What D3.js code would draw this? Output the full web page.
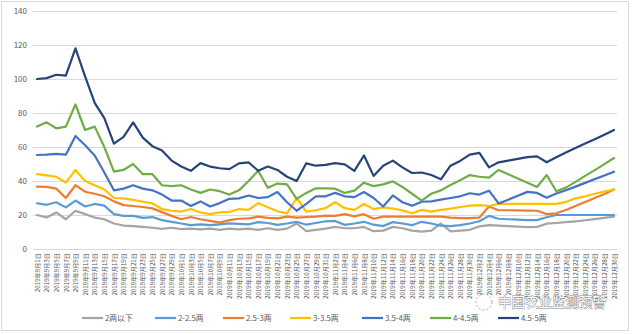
<!DOCTYPE html>
<html><head><meta charset="utf-8">
<script src="https://cdn.jsdelivr.net/npm/d3@7"></script>
<style>
body{margin:0;background:#fff;}
svg{display:block;font-family:"Noto Sans CJK SC","Noto Sans",sans-serif;}
</style>
</head><body>
<svg id="c" width="635" height="334"></svg>
<script>
const dates = [
"2019-09-01","2019-09-03","2019-09-05","2019-09-07","2019-09-09","2019-09-11","2019-09-13","2019-09-15","2019-09-17","2019-09-19",
"2019-09-21","2019-09-23","2019-09-25","2019-09-27","2019-09-29","2019-10-01","2019-10-03","2019-10-05","2019-10-07","2019-10-09",
"2019-10-11","2019-10-13","2019-10-15","2019-10-17","2019-10-19","2019-10-21","2019-10-23","2019-10-25","2019-10-27","2019-10-29",
"2019-10-31","2019-11-02","2019-11-04","2019-11-06","2019-11-08","2019-11-10","2019-11-12","2019-11-14","2019-11-16","2019-11-18",
"2019-11-20","2019-11-22","2019-11-24","2019-11-26","2019-11-28","2019-11-30","2019-12-02","2019-12-04","2019-12-06","2019-12-08",
"2019-12-10","2019-12-12","2019-12-14","2019-12-16","2019-12-18","2019-12-20","2019-12-22","2019-12-24","2019-12-26","2019-12-28",
"2019-12-30"];

const seriesNames = ["2两以下","2-2.5两","2.5-3两","3-3.5两","3.5-4两","4-4.5两","4.5-5两"];
const seriesColors = ["#A5A5A5","#5B9BD5","#ED7D31","#FFC000","#4472C4","#70AD47","#264478"];

const below2 = [20,18.5,21.5,17.5,22.5,20.5,18.5,17.5,15,13.8,
 13.5,13,12.5,11.8,12.5,11.7,12,11.5,12,11.3,
 12,11.5,12,11.3,12.2,11.3,12,15,10.5,11.3,
 12,13,12.2,12.2,13,10.5,10.8,13,12.2,10.8,
 10.2,10.8,15,10.4,10.8,11.3,13.3,14,13.8,13.5,
 13.2,12.9,13,14.9,15.3,15.8,16.3,16.9,17.6,18.3,
 19];
const s2_25 = [26.9,26,27.5,24.5,28.5,25,26.5,25.5,20.5,19.5,
 19.5,18.3,18.8,17,16,15,14,14.5,14,14.5,
 15.1,14.8,14.5,15.8,15.3,14.2,15,16,14.3,15.3,
 16.3,16.5,14.2,15,16,14.3,13.5,15.8,15,14,
 16,15,13.7,13.5,14,15,16.3,19.5,17.8,17.5,
 17.3,17,17,18.7,20,20,20,20,20,20,
 20];
const s25_3 = [36.7,36.5,35.5,30,37.5,33.7,32.5,31,28,25.8,
 25.3,24.7,23.9,21.7,19.5,17.5,18.8,17.5,16.5,15.5,
 17,17.8,18,19,18.3,18,19,18.5,18.8,19,
 19.6,19.5,20.5,19.2,20.5,17.8,19,19,19,19,
 19,19,19,18.5,18.2,18.2,18.5,25,22.8,22.8,
 22.7,22.6,22.5,20.5,21,22.9,25.3,27.6,30,32.4,
 35];
const s3_35 = [44,43.3,42.5,39,46.5,40,37.5,35,30,29.8,
 28.9,27.8,26.8,23.5,22.5,22,23.5,21.5,20.5,21.5,
 21.8,23.5,23,27,24.5,22.2,21,30,22,22.8,
 24,27.5,24,23,26.5,23.5,24.5,23.8,22.7,21,
 23,22,23,23.8,24.7,25.5,25.8,25.3,26.5,26.5,
 26.5,26.5,26.5,26.5,26.5,27.7,29.8,31,32.5,33.8,
 35];
const s35_4 = [55.3,55.5,56,55.5,66.5,61,55,45,34.5,35.5,
 37.5,35.5,34.5,32,28.5,28.5,25.3,28,25,27,
 29.5,29.8,31.5,30,30.5,33.5,27.5,22.5,26.5,31,
 31,33,31,30.5,33.5,30,25,31.5,27.5,25.5,
 27.8,28,29,30,31,32.8,32,34.3,26.8,29,
 31.3,33.6,33,30.2,32.6,34.6,36.7,38.9,41.1,43.2,
 45.5];
const s4_45 = [72,74.5,71,72,85,70,72,60,45.5,46.5,
 50,44,44,37.5,37,37.5,35,33,35,34,
 32,34.5,40,46,36,38.5,38,29.5,33,35.7,
 35.7,35.5,33,34.3,39,37,38,39.8,36.5,32.5,
 28.5,32.5,34.5,37.6,40.5,43.5,42.5,42,46.5,44,
 41.5,39,36.5,43.5,34,36.1,39.5,43,46.4,49.9,
 53.5];
const s45_5 = [100,100.5,102.5,102,118,101.5,86,77,62,66,
 74.5,65.5,60.5,58,52,48.5,46,50.5,48.5,47.5,
 47,50.4,51,46,48.5,46.5,42.5,40,50.4,49,
 49.5,50.5,49.8,46,55,43,49,52,48,44.7,
 45,43.5,41,49,51.8,55.5,56.5,48,51,52,
 53,54,54.5,51,54,56.8,59.4,62,64.6,67.2,
 70];

const seriesValues = [below2, s2_25, s25_3, s3_35, s35_4, s4_45, s45_5];
const yTicks = [0,20,40,60,80,100,120,140];

const svg = d3.select("#c");
const parse = d3.timeParse("%Y-%m-%d");
const dts = dates.map(parse);

// frame
svg.append("rect").attr("x",1.5).attr("y",1.5).attr("width",627).attr("height",329)
  .attr("fill","#fff").attr("stroke","#d9d9d9").attr("stroke-width",1);

const x = d3.scaleTime().domain([dts[0], dts[dts.length-1]]).range([37,614]);
const y = d3.scaleLinear().domain([0,140]).range([249,11]);

// gridlines
svg.append("g").selectAll("line").data(yTicks).join("line")
  .attr("x1",33).attr("x2",617)
  .attr("y1",d=>Math.round(y(d))+0.5).attr("y2",d=>Math.round(y(d))+0.5)
  .attr("stroke","#d9d9d9").attr("stroke-width",1);

// y axis labels
const yAxis = d3.axisLeft(y).tickValues(yTicks).tickSize(0).tickPadding(0);
const gy = svg.append("g").attr("transform","translate(27,0)").call(yAxis);
gy.select(".domain").remove();
gy.selectAll("text").attr("fill","#595959").style("font-size","8px")
  .style("font-family","'Noto Sans CJK SC','Noto Sans',sans-serif");

// x axis labels
const fmt = d => `${d.getFullYear()}年${d.getMonth()+1}月${d.getDate()}日`;
const xAxis = d3.axisBottom(x).tickValues(dts).tickFormat(fmt).tickSize(0);
const gx = svg.append("g").attr("transform","translate(0,250)").call(xAxis);
gx.select(".domain").remove();
gx.selectAll("text")
  .attr("transform","rotate(-90)")
  .attr("x",-3).attr("y",0).attr("dy","0.35em")
  .style("text-anchor","end")
  .attr("fill","#595959").style("font-size","6.2px")
  .style("font-family","'Noto Sans CJK SC','Noto Sans',sans-serif");

// lines
const line = d3.line().x((d,i)=>x(dts[i])).y(d=>y(d));
seriesValues.forEach((vals,si)=>{
  svg.append("path").datum(vals)
    .attr("d",line)
    .attr("fill","none")
    .attr("stroke",seriesColors[si])
    .attr("stroke-width",2.2)
    .attr("stroke-linejoin","round")
    .attr("stroke-linecap","round");
});

// watermark (drawn beneath the legend)
const wm = svg.append("g");
wm.append("circle").attr("cx",484).attr("cy",302).attr("r",8)
  .attr("fill","none").attr("stroke","#999").attr("stroke-width",0.8)
  .attr("stroke-dasharray","2,2");
wm.append("text").attr("x",498).attr("y",307)
  .style("font-size","13.5px")
  .attr("fill","#fff").attr("stroke","#808080").attr("stroke-width",0.8)
  .style("paint-order","stroke")
  .text("中国农业监测预警");

// legend
const legendX = [82,155,223,290,362,430,498];
const lg = svg.append("g");
seriesNames.forEach((n,i)=>{
  lg.append("line").attr("x1",legendX[i]).attr("x2",legendX[i]+21)
    .attr("y1",318).attr("y2",318)
    .attr("stroke",seriesColors[i]).attr("stroke-width",2.2);
  lg.append("text").attr("x",legendX[i]+23).attr("y",318).attr("dy","0.35em")
    .attr("fill","#595959").style("font-size","7.8px").text(n);
});
</script>
</body></html>
